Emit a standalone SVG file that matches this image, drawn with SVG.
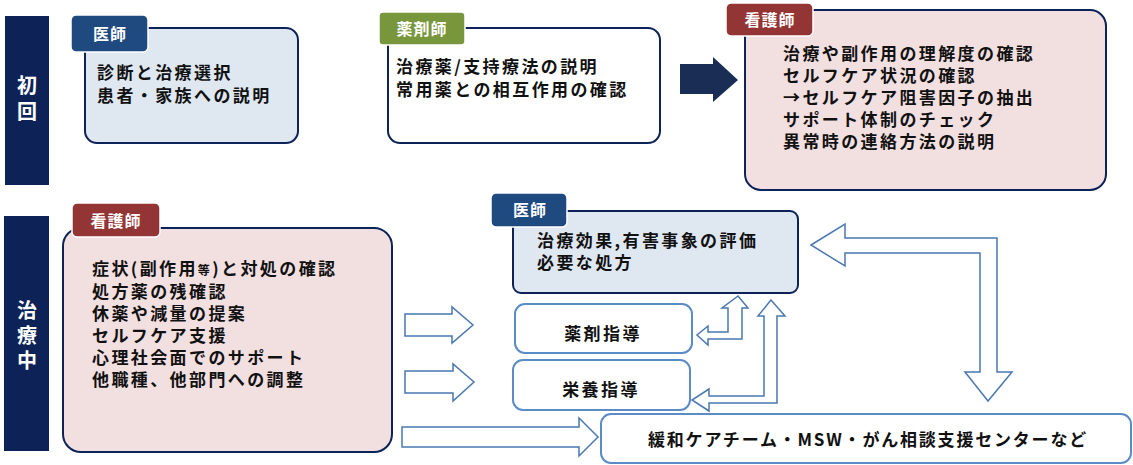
<svg xmlns="http://www.w3.org/2000/svg" width="1133" height="465" viewBox="0 0 1133 465">
<style>
text{font-family:"Noto Sans CJK JP","Noto Sans",sans-serif;font-weight:bold;font-size:17px;letter-spacing:2.4px;fill:#111}
.side{fill:#0d2358}
.bt{fill:#fff;font-size:16px;letter-spacing:1px}
.bx{stroke:#0d2358;stroke-width:2}
.sm{fill:#fff;stroke:#5b8cc6;stroke-width:2}
.ha{fill:#fff;stroke:#4a78b0;stroke-width:1.5}
</style>
<rect width="1133" height="465" fill="#fff"/>
<g id="side1"><rect class="side" x="5" y="16" width="44" height="169"/><text x="27" y="93" text-anchor="middle" style="fill:#fff;font-size:20px;letter-spacing:0">初</text><text x="27" y="119" text-anchor="middle" style="fill:#fff;font-size:20px;letter-spacing:0">回</text></g>
<g id="side2"><rect class="side" x="4" y="216" width="45" height="235"/><text x="27" y="318" text-anchor="middle" style="fill:#fff;font-size:20px;letter-spacing:0">治</text><text x="27" y="343" text-anchor="middle" style="fill:#fff;font-size:20px;letter-spacing:0">療</text><text x="27" y="368" text-anchor="middle" style="fill:#fff;font-size:20px;letter-spacing:0">中</text></g>
<g id="doc1"><rect class="bx" x="85" y="28" width="213" height="115" rx="12" fill="#dfe7f1"/><rect x="71" y="15" width="77" height="37" rx="5" fill="#1f4a80" stroke="#fff" stroke-width="1.5"/><text class="bt" x="110" y="40" text-anchor="middle">医師</text><text x="97" y="79">診断と治療選択</text><text x="97" y="102">患者・家族への説明</text></g>
<g id="pharm1"><rect class="bx" x="388" y="28" width="272" height="115" rx="12" fill="#fff"/><rect x="379" y="12" width="86" height="33" rx="4" fill="#78963c" stroke="#fff" stroke-width="1.5"/><text class="bt" x="422" y="35" text-anchor="middle">薬剤師</text><text x="396" y="73">治療薬/支持療法の説明</text><text x="396" y="96">常用薬との相互作用の確認</text></g>
<g id="nurse1"><rect class="bx" x="745" y="10" width="361" height="180" rx="16" fill="#f2dfe0"/><rect x="726" y="3" width="87" height="33" rx="5" fill="#943535" stroke="#fff" stroke-width="1.5"/><text class="bt" x="770" y="26" text-anchor="middle">看護師</text>
<text x="783" y="60">治療や副作用の理解度の確認</text><text x="783" y="82">セルフケア状況の確認</text><text x="783" y="104">→セルフケア阻害因子の抽出</text><text x="783" y="126">サポート体制のチェック</text><text x="783" y="148">異常時の連絡方法の説明</text></g>
<g id="nurse2"><rect class="bx" x="63" y="228" width="329" height="224" rx="18" fill="#f2dfe0"/><rect x="72" y="203" width="88" height="34" rx="5" fill="#943535" stroke="#fff" stroke-width="1.5"/><text class="bt" x="116" y="227" text-anchor="middle">看護師</text>
<text x="92" y="275">症状(副作用<tspan font-size="12">等</tspan>)と対処の確認</text><text x="92" y="298">処方薬の残確認</text><text x="92" y="320">休薬や減量の提案</text><text x="92" y="342">セルフケア支援</text><text x="92" y="364">心理社会面でのサポート</text><text x="92" y="386">他職種、他部門への調整</text></g>
<g id="doc2"><rect class="bx" x="513" y="211" width="285" height="82" rx="8" fill="#dfe7f1"/><rect x="491" y="193" width="76" height="34" rx="5" fill="#1f4a80" stroke="#fff" stroke-width="1.5"/><text class="bt" x="530" y="216" text-anchor="middle">医師</text><text x="537" y="247">治療効果,有害事象の評価</text><text x="537" y="269">必要な処方</text></g>
<g id="yaku"><rect class="sm" x="515" y="304" width="177" height="49" rx="10"/><text x="603" y="340" text-anchor="middle">薬剤指導</text></g>
<g id="eiyo"><rect class="sm" x="513" y="360" width="177" height="50" rx="10"/><text x="601" y="396" text-anchor="middle">栄養指導</text></g>
<g id="team"><rect class="sm" x="601" y="414" width="530" height="49" rx="10"/><text x="868" y="446" text-anchor="middle" style="letter-spacing:1.8px">緩和ケアチーム・MSW・がん相談支援センターなど</text></g>
<g id="connectors">
<polygon points="680,64 713,64 713,57 738,80 713,102 713,94 680,94" fill="#1a2e55"/>
<polygon class="ha" points="405,314 452,314 452,307 473,325 452,343 452,336 405,336"/>
<polygon class="ha" points="405,371 453,371 453,364 474,382 453,401 453,393 405,393"/>
<polygon class="ha" points="402,427 579,427 579,418 598,437 579,456 579,447 402,447"/>
<polygon class="ha" points="811,245 845,224 845,238 997,238 997,372 1012,372 988,401 965,372 980,372 980,253 845,253 845,266"/>
<polygon class="ha" points="738,296 748,308 742,308 742,339 708,339 708,345 697,335 708,326 708,332 728,332 728,308 722,308"/>
<polygon class="ha" points="771,300 785,316 777,316 777,403 709,403 709,411 692,400 709,389 709,396 764,396 764,316 758,316"/>
</g>
</svg>
